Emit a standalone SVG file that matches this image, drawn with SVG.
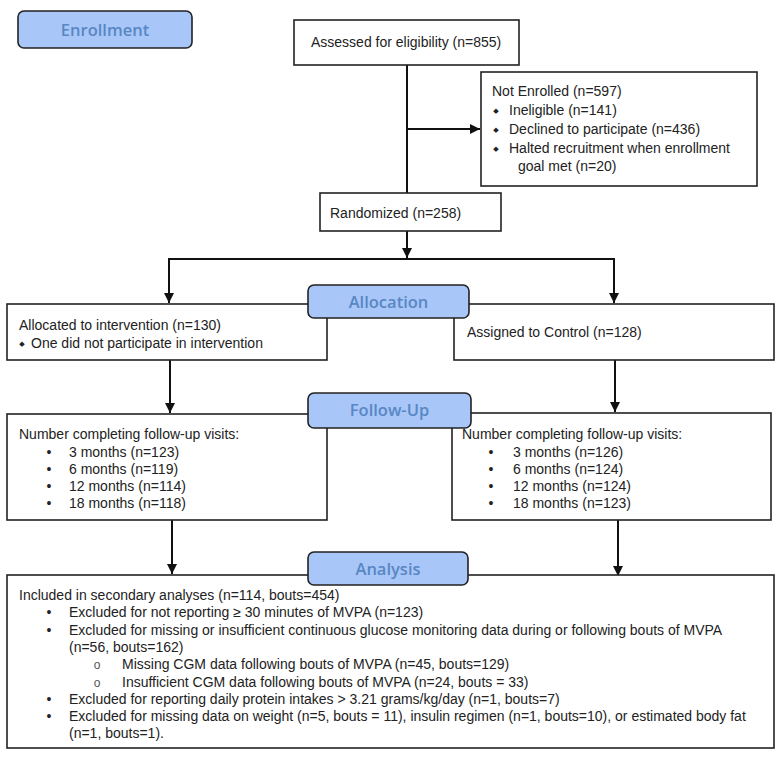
<svg xmlns="http://www.w3.org/2000/svg" width="782" height="757" viewBox="0 0 782 757">
<defs>
<marker id="ah" viewBox="0 0 10 10" refX="10" refY="5" markerWidth="10" markerHeight="10" markerUnits="userSpaceOnUse" orient="auto">
<path d="M0,0 L10,5 L0,10 z" fill="#111"/>
</marker>
</defs>
<style>
.box{fill:#fff;stroke:#222;stroke-width:1.6}
.lab{fill:#a8c6f7;stroke:#222;stroke-width:1.6}
.lt{font-family:"Open Sans","Noto Sans",sans-serif;font-weight:600;font-size:16.5px;fill:#5887c4;text-anchor:middle}
.t{font-family:"Liberation Sans",Arial,sans-serif;font-size:14px;fill:#222}
.d{font-family:"DejaVu Sans",sans-serif;font-size:7px;fill:#222;text-anchor:middle}
.b{font-family:"Liberation Sans",Arial,sans-serif;font-size:14px;fill:#222;text-anchor:middle}
.o{font-family:"Liberation Sans",Arial,sans-serif;font-size:12px;fill:#555;text-anchor:middle}
.c{fill:none;stroke:#111;stroke-width:2}
</style>
<rect width="782" height="757" fill="#fff"/>

<g id="connectors">
<line class="c" x1="407" y1="65" x2="407" y2="193"/>
<line class="c" x1="407" y1="129" x2="480" y2="129" marker-end="url(#ah)"/>
<line class="c" x1="407" y1="231" x2="407" y2="258" marker-end="url(#ah)"/>
<line class="c" x1="169" y1="259" x2="614" y2="259"/>
<line class="c" x1="169" y1="258" x2="169" y2="303" marker-end="url(#ah)"/>
<line class="c" x1="614" y1="258" x2="614" y2="303" marker-end="url(#ah)"/>
<line class="c" x1="170" y1="360" x2="170" y2="413" marker-end="url(#ah)"/>
<line class="c" x1="615" y1="360" x2="615" y2="412" marker-end="url(#ah)"/>
<line class="c" x1="172" y1="520" x2="172" y2="574" marker-end="url(#ah)"/>
<line class="c" x1="618" y1="520" x2="618" y2="576" marker-end="url(#ah)"/>
</g>

<g id="enrollment">
<rect class="lab" x="18" y="11" width="174" height="37" rx="6"/>
<text class="lt" x="105" y="36">Enrollment</text>
</g>

<g id="assessed">
<rect class="box" x="294" y="20" width="225" height="45"/>
<text class="t" x="311" y="47">Assessed for eligibility (n=855)</text>
</g>

<g id="not-enrolled">
<rect class="box" x="481" y="72" width="276" height="114"/>
<text class="t" x="492" y="96">Not Enrolled (n=597)</text>
<text class="d" x="496" y="113">◆</text>
<text class="t" x="509" y="115">Ineligible (n=141)</text>
<text class="d" x="496" y="132">◆</text>
<text class="t" x="509" y="134">Declined to participate (n=436)</text>
<text class="d" x="496" y="151">◆</text>
<text class="t" x="509" y="153">Halted recruitment when enrollment</text>
<text class="t" x="518" y="171">goal met (n=20)</text>
</g>

<g id="randomized">
<rect class="box" x="320" y="193" width="181" height="38"/>
<text class="t" x="330" y="218">Randomized (n=258)</text>
</g>

<g id="allocated">
<rect class="box" x="7" y="304" width="320" height="56"/>
<text class="t" x="19" y="330">Allocated to intervention (n=130)</text>
<text class="d" x="22" y="346">◆</text>
<text class="t" x="31" y="348">One did not participate in intervention</text>
</g>

<g id="control">
<rect class="box" x="454" y="304" width="320" height="56"/>
<text class="t" x="467" y="337">Assigned to Control (n=128)</text>
</g>

<g id="allocation-label">
<rect class="lab" x="308" y="285" width="161" height="33" rx="6"/>
<text class="lt" x="388.5" y="308">Allocation</text>
</g>

<g id="followup-intervention">
<rect class="box" x="7" y="414" width="320" height="106"/>
<text class="t" x="19" y="439">Number completing follow-up visits:</text>
<text class="b" x="49" y="457">•</text><text class="t" x="69" y="457">3 months (n=123)</text>
<text class="b" x="49" y="474">•</text><text class="t" x="69" y="474">6 months (n=119)</text>
<text class="b" x="49" y="491">•</text><text class="t" x="69" y="491">12 months (n=114)</text>
<text class="b" x="49" y="508">•</text><text class="t" x="69" y="508">18 months (n=118)</text>
</g>

<g id="followup-control">
<rect class="box" x="452" y="413" width="319" height="107"/>
<text class="t" x="462" y="439">Number completing follow-up visits:</text>
<text class="b" x="491" y="457">•</text><text class="t" x="513" y="457">3 months (n=126)</text>
<text class="b" x="491" y="474">•</text><text class="t" x="513" y="474">6 months (n=124)</text>
<text class="b" x="491" y="491">•</text><text class="t" x="513" y="491">12 months (n=124)</text>
<text class="b" x="491" y="508">•</text><text class="t" x="513" y="508">18 months (n=123)</text>
</g>

<g id="followup-label">
<rect class="lab" x="308" y="393" width="163" height="35" rx="6"/>
<text class="lt" x="389.5" y="416">Follow-Up</text>
</g>

<g id="analysis">
<rect class="box" x="7" y="575" width="767" height="173"/>
<text class="t" x="19" y="600">Included in secondary analyses (n=114, bouts=454)</text>
<text class="b" x="49" y="617">•</text><text class="t" x="69" y="617">Excluded for not reporting ≥ 30 minutes of MVPA (n=123)</text>
<text class="b" x="49" y="635">•</text><text class="t" x="69" y="635">Excluded for missing or insufficient continuous glucose monitoring data during or following bouts of MVPA</text>
<text class="t" x="69" y="652">(n=56, bouts=162)</text>
<text class="o" x="97" y="669">o</text><text class="t" x="122" y="669">Missing CGM data following bouts of MVPA (n=45, bouts=129)</text>
<text class="o" x="97" y="687">o</text><text class="t" x="122" y="687">Insufficient CGM data following bouts of MVPA (n=24, bouts = 33)</text>
<text class="b" x="49" y="704">•</text><text class="t" x="69" y="704">Excluded for reporting daily protein intakes &gt; 3.21 grams/kg/day (n=1, bouts=7)</text>
<text class="b" x="49" y="721">•</text><text class="t" x="69" y="721">Excluded for missing data on weight (n=5, bouts = 11), insulin regimen (n=1, bouts=10), or estimated body fat</text>
<text class="t" x="69" y="738">(n=1, bouts=1).</text>
</g>

<g id="analysis-label">
<rect class="lab" x="308" y="552" width="160" height="33" rx="6"/>
<text class="lt" x="388" y="575">Analysis</text>
</g>
</svg>
